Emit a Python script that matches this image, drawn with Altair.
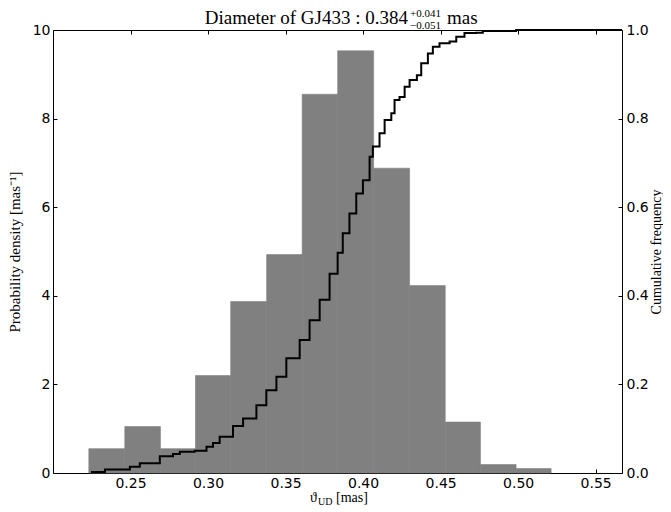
import altair as alt
import pandas as pd

# Histogram (probability density)
bin_start = [0.2231, 0.2463, 0.2693, 0.2919, 0.3146, 0.3378, 0.3607, 0.3836, 0.4068, 0.4300, 0.4530, 0.4757, 0.4987]
bin_end = [0.2463, 0.2693, 0.2919, 0.3146, 0.3378, 0.3607, 0.3836, 0.4068, 0.4300, 0.4530, 0.4757, 0.4987, 0.5213]
density = [0.55, 1.05, 0.55, 2.20, 3.87, 4.93, 8.55, 9.53, 6.88, 4.23, 1.15, 0.19, 0.10]

# Cumulative frequency curve
cdf_x = [0.2245, 0.2335, 0.2496, 0.2560, 0.2689, 0.2774, 0.2818, 0.2914, 0.2990, 0.3032, 0.3075,
         0.3161, 0.3226, 0.3312, 0.3376, 0.3441, 0.3505, 0.3591, 0.3655, 0.3720, 0.3784,
         0.3836, 0.3869, 0.3912, 0.3956, 0.3999, 0.4042, 0.4063, 0.4106, 0.4139, 0.4182,
         0.4203, 0.4235, 0.4268, 0.4300, 0.4347, 0.4375, 0.4418, 0.4450, 0.4493, 0.4558,
         0.4601, 0.4654, 0.4729, 0.4772, 0.4987, 0.5670]
cdf_y = [0.002, 0.008, 0.014, 0.022, 0.038, 0.043, 0.048, 0.050, 0.059, 0.068, 0.082,
         0.106, 0.123, 0.153, 0.187, 0.217, 0.259, 0.300, 0.345, 0.391, 0.450,
         0.497, 0.541, 0.586, 0.631, 0.661, 0.714, 0.737, 0.767, 0.797, 0.812,
         0.842, 0.849, 0.872, 0.887, 0.898, 0.925, 0.947, 0.962, 0.970, 0.974,
         0.985, 0.993, 0.994, 0.998, 1.000, 1.000]

x_ticks = [0.25, 0.30, 0.35, 0.40, 0.45, 0.50, 0.55]
y_ticks = [0, 2, 4, 6, 8, 10]
c_ticks = [0.0, 0.2, 0.4, 0.6, 0.8, 1.0]

title_main = "Diameter of GJ433 : 0.384"
title_sup = "+0.041"
title_sub = "\u22120.051"
title_unit = "mas"
xlabel_sym = "\u03d1"
xlabel_sub = "UD"
xlabel_unit = "[mas]"
ylabel_left = "Probability density [mas\u207b\u00b9]"
ylabel_right = "Cumulative frequency"

SERIF = "Liberation Serif"

df_hist = pd.DataFrame({"start": bin_start, "end": bin_end, "density": density})
df_cdf = pd.DataFrame({"x": cdf_x, "cum": cdf_y})

x_scale = alt.Scale(domain=[0.2, 0.567], nice=False, zero=False)

bars = alt.Chart(df_hist).mark_rect(color="#808080", stroke="#808080", strokeWidth=0.6).encode(
    x=alt.X("start:Q", scale=x_scale,
            axis=alt.Axis(orient="bottom", values=x_ticks, format=".2f", offset=-4, tickSize=4,
                          domain=False, grid=False, labelPadding=3, title=None)),
    x2="end:Q",
    y=alt.Y("density:Q", scale=alt.Scale(domain=[0, 10], nice=False),
            axis=alt.Axis(orient="left", values=y_ticks, format="d", offset=-4, tickSize=4,
                          domain=False, grid=False, labelPadding=3, title=ylabel_left,
                          titlePadding=10, titleFont=SERIF, titleFontSize=15,
                          titleFontWeight="normal", titleColor="black")),
    y2=alt.datum(0),
)

line = alt.Chart(df_cdf).mark_line(color="black", strokeWidth=2, interpolate="step-after", clip=False).encode(
    x=alt.X("x:Q", scale=x_scale,
            axis=alt.Axis(orient="top", values=x_ticks, labels=False, offset=-4, tickSize=4,
                          domain=False, grid=False, title=None)),
    y=alt.Y("cum:Q", scale=alt.Scale(domain=[0, 1], nice=False),
            axis=alt.Axis(orient="right", values=c_ticks, format=".1f", offset=-4, tickSize=4,
                          domain=False, grid=False, labelPadding=4, title=ylabel_right,
                          titleAngle=270, titleBaseline="top", titlePadding=1, titleFont=SERIF,
                          titleFontSize=14, titleFontWeight="normal", titleColor="black")),
)


def label(text, x, y, size, align="left"):
    return alt.Chart(pd.DataFrame({"t": [text]})).mark_text(
        font=SERIF, fontSize=size, align=align, baseline="alphabetic", color="black"
    ).encode(text="t:N", x=alt.value(x), y=alt.value(y))


t_main = label(title_main, 355, -6, 19, "right")
t_sup = label(title_sup, 357, -13, 11)
t_sub = label(title_sub, 357, -1, 11)
t_unit = label(title_unit, 394, -6, 19)

xl_sym = label(xlabel_sym, 257, 472, 14)
xl_sub = label(xlabel_sub, 265, 475, 10)
xl_unit = label(xlabel_unit, 283, 472, 14)

chart = alt.layer(
    bars, line, t_main, t_sup, t_sub, t_unit, xl_sym, xl_sub, xl_unit
).resolve_scale(y="independent").resolve_axis(x="independent", y="independent").properties(
    width=569, height=443,
    autosize=alt.AutoSizeParams(type="none"),
    padding={"left": 45, "top": 22, "right": 41, "bottom": 33},
).configure_view(stroke="black", strokeWidth=1).configure_axis(
    labelFont="DejaVu Sans", labelFontSize=14, labelColor="black", tickColor="black"
)

chart.save("out.html", embed_options={"renderer": "svg", "actions": False})
